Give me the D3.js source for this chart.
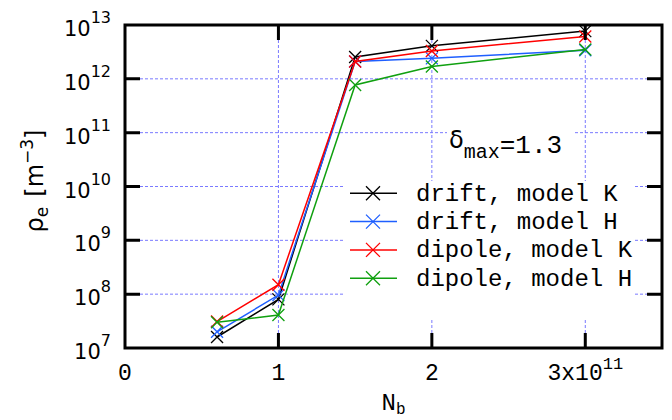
<!DOCTYPE html>
<html>
<head>
<meta charset="utf-8">
<script src="https://cdn.jsdelivr.net/npm/d3@7"></script>
<style>
  body { margin: 0; background: #fff; }
  svg { display: block; }
  .mono { font-family: "Liberation Mono", "DejaVu Sans Mono", monospace; }
  .sans { font-family: "DejaVu Sans", sans-serif; }
</style>
</head>
<body>
<svg id="chart"></svg>
<script>
// bunch population N_b (units of 1e11)
var nb = [0.6, 1, 1.5, 2, 3];

// electron density for each case
var driftK = [1.6e7, 8.0e7, 2.55e12, 4.1e12, 7.7e12];
var driftH = [2.0e7, 9.6e7, 2.1e12, 2.4e12, 3.4e12];
var dipoleK = [3.1e7, 1.5e8, 2.1e12, 3.3e12, 6.1e12];
var dipoleH = [3.0e7, 4.1e7, 7.7e11, 1.7e12, 3.5e12];

var seriesNames = ["drift, model K", "drift, model H", "dipole, model K", "dipole, model H"];
var seriesColors = ["#000000", "#1f5fff", "#ff0000", "#10a010"];
var seriesValues = [driftK, driftH, dipoleK, dipoleH];

var xTicks = [0, 1, 2, 3];
var yTicks = [1e7, 1e8, 1e9, 1e10, 1e11, 1e12, 1e13];
var yExponents = ["7", "8", "9", "10", "11", "12", "13"];

var width = 672;
var height = 420;
var margin = { top: 25, right: 10, bottom: 72, left: 125 };
// note: "top" is taken by window.top, so use plot* names
var plotLeft = margin.left, plotRight = width - margin.right;
var plotTop = margin.top, plotBottom = height - margin.bottom;
var tickLen = 15;

var svg = d3.select("#chart").attr("width", width).attr("height", height);

var x = d3.scaleLinear().domain([0, 3.5]).range([plotLeft, plotRight]);
var y = d3.scaleLog().domain([1e7, 1e13]).range([plotBottom, plotTop]);

// dotted grid
var grid = svg.append("g")
  .attr("stroke", "#7a7aff")
  .attr("stroke-width", 1)
  .attr("stroke-dasharray", "3,2");
grid.selectAll(".gx")
  .data(xTicks.filter(function (d) { return d > 0; }))
  .join("line")
  .attr("x1", function (d) { return x(d); })
  .attr("x2", function (d) { return x(d); })
  .attr("y1", plotTop).attr("y2", plotBottom);
grid.selectAll(".gy")
  .data(yTicks.slice(1, -1))
  .join("line")
  .attr("y1", function (d) { return y(d); })
  .attr("y2", function (d) { return y(d); })
  .attr("x1", plotLeft).attr("x2", plotRight);

// data lines + markers
var line = d3.line()
  .x(function (d, i) { return x(nb[i]); })
  .y(function (d) { return y(d); });

var cross = function (s) {
  return "M" + (-s) + "," + (-s) + "L" + s + "," + s + "M" + (-s) + "," + s + "L" + s + "," + (-s);
};

seriesValues.forEach(function (vals, k) {
  var g = svg.append("g").attr("stroke", seriesColors[k]).attr("fill", "none");
  g.append("path").attr("d", line(vals)).attr("stroke-width", 1.5);
  g.selectAll(".pt")
    .data(vals)
    .join("path")
    .attr("transform", function (d, i) { return "translate(" + x(nb[i]) + "," + y(d) + ")"; })
    .attr("d", cross(6))
    .attr("stroke-width", 1.3);
});

// white boxes behind the labels (hide grid)
svg.append("rect").attr("x", 447).attr("y", 121).attr("width", 126).attr("height", 30).attr("fill", "#fff");
svg.append("rect").attr("x", 345).attr("y", 181).attr("width", 288).attr("height", 139).attr("fill", "#fff");

// delta label
var dl = svg.append("text").attr("class", "mono").attr("x", 449).attr("y", 153).attr("font-size", 26);
dl.append("tspan").attr("class", "sans").attr("font-size", 24).attr("dy", -5).text("δ");
dl.append("tspan").attr("font-size", 20).attr("dy", 10).text("max");
dl.append("tspan").attr("dy", -5).text("=1.3");

// legend
var legend = svg.append("g");
seriesNames.forEach(function (name, k) {
  var ly = 193.3 + k * 28.3;
  var g = legend.append("g").attr("stroke", seriesColors[k]).attr("fill", "none");
  g.append("line").attr("x1", 350).attr("x2", 397).attr("y1", ly).attr("y2", ly).attr("stroke-width", 1.5);
  g.append("path").attr("transform", "translate(373," + ly + ")").attr("d", cross(7)).attr("stroke-width", 1.3);
  legend.append("text").attr("class", "mono").attr("x", 416).attr("y", ly + 7.5)
    .attr("font-size", 24).attr("fill", "#000").text(name);
});

// border and ticks
var axis = svg.append("g").attr("stroke", "#000").attr("stroke-width", 3).attr("fill", "none");
axis.append("rect").attr("x", plotLeft).attr("y", plotTop)
  .attr("width", plotRight - plotLeft).attr("height", plotBottom - plotTop);
axis.selectAll(".tx")
  .data(xTicks.filter(function (d) { return d > 0; }))
  .join("path")
  .attr("d", function (d) {
    return "M" + x(d) + "," + plotBottom + "v" + (-tickLen) + "M" + x(d) + "," + plotTop + "v" + tickLen;
  });
axis.selectAll(".ty")
  .data(yTicks.slice(1, -1))
  .join("path")
  .attr("d", function (d) {
    return "M" + plotLeft + "," + y(d) + "h" + tickLen + "M" + plotRight + "," + y(d) + "h" + (-tickLen);
  });

// y tick labels
var yl = svg.append("g").attr("class", "sans").attr("fill", "#000");
yTicks.forEach(function (t, i) {
  var txt = yl.append("text").attr("x", 111).attr("y", y(t) + 11).attr("text-anchor", "end").attr("font-size", 21);
  txt.append("tspan").text("10");
  txt.append("tspan").attr("font-size", 16).attr("dy", -13).text(yExponents[i]);
});

// x tick labels
var xl = svg.append("g").attr("class", "mono").attr("fill", "#000");
xTicks.forEach(function (t) {
  var txt = xl.append("text").attr("x", x(t)).attr("y", 380).attr("text-anchor", "middle").attr("font-size", 23);
  if (t === 3) {
    txt.append("tspan").text("3x10");
    txt.append("tspan").attr("font-size", 17).attr("dy", -11).text("11");
  } else {
    txt.text(t);
  }
});

// axis titles
var xt = svg.append("text").attr("class", "mono").attr("x", (plotLeft + plotRight) / 2).attr("y", 410)
  .attr("text-anchor", "middle").attr("font-size", 24);
xt.append("tspan").text("N");
xt.append("tspan").attr("font-size", 16).attr("dy", 4).text("b");

var yt = svg.append("text").attr("class", "sans")
  .attr("transform", "translate(43,181) rotate(-90)")
  .attr("text-anchor", "middle").attr("font-size", 24);
yt.append("tspan").text("ρ");
yt.append("tspan").attr("font-size", 17).attr("dy", 5).text("e");
yt.append("tspan").attr("dy", -5).attr("dx", 10).text("[m");
yt.append("tspan").attr("font-size", 17).attr("dy", -10).text("−3");
yt.append("tspan").attr("dy", 10).text("]");
</script>
</body>
</html>
